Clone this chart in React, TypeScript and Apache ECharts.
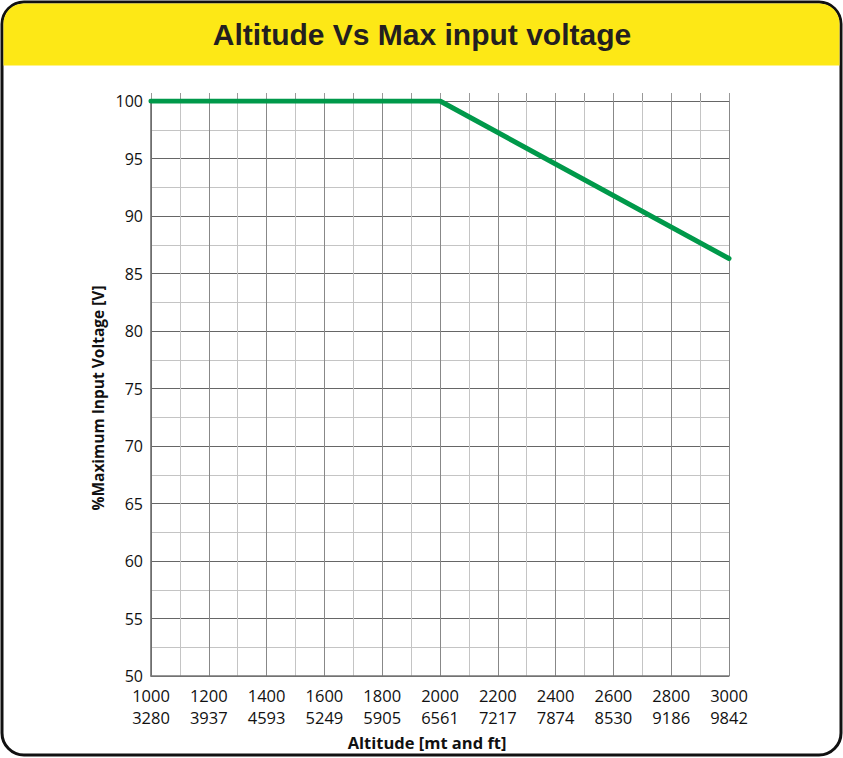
import React, { useEffect, useRef } from "react";
import * as echarts from "echarts";

const altitudeM = [1000, 2000, 3000];
const maxVoltagePct = [100, 100, 86.3];
const xTicksM = [1000, 1200, 1400, 1600, 1800, 2000, 2200, 2400, 2600, 2800, 3000];
const xTicksFt = ["3280", "3937", "4593", "5249", "5905", "6561", "7217", "7874", "8530", "9186", "9842"];
const titleText = "Altitude Vs Max input voltage";
const yName = "%Maximum Input Voltage [V]";
const xName = "Altitude [mt and ft]";

export default function App() {
  const ref = useRef<HTMLDivElement>(null);
  useEffect(() => {
    document.body.style.margin = "0";
    const chart = echarts.init(ref.current!, null, { renderer: "svg" });
    const ftOf = (v: number) => {
      const i = xTicksM.indexOf(v);
      return i >= 0 ? xTicksFt[i] : "";
    };
    const gridLeft = 151, gridTop = 101, gridW = 578, gridH = 575;
    chart.setOption({
      animation: false,
      graphic: [
        { type: "rect", z: -10, shape: { x: 2, y: 2, width: 839, height: 753, r: 22 }, style: { fill: "#fff", stroke: "#111", lineWidth: 3 } },
        { type: "rect", z: -9, shape: { x: 3.5, y: 3.5, width: 836, height: 62, r: [20, 20, 0, 0] }, style: { fill: "#FDE816" } },
        { type: "text", z: 10, x: 422, y: 34, style: { text: titleText, font: "bold 30px 'Liberation Sans', Arial, sans-serif", fill: "#231f20", align: "center", verticalAlign: "middle" } },
        { type: "text", z: 10, x: 427, y: 742, style: { text: xName, font: "bold 16.5px 'Open Sans', sans-serif", fill: "#111", align: "center", verticalAlign: "middle" } },
        { type: "text", z: 10, x: 98, y: 398, rotation: Math.PI / 2, style: { text: yName, font: "bold 15.5px 'Open Sans', sans-serif", fill: "#111", align: "center", verticalAlign: "middle" } },
      ],
      grid: { left: gridLeft, top: gridTop, width: gridW, height: gridH, containLabel: false },
      xAxis: [
        {
          type: "value", min: 1000, max: 3000, interval: 200,
          axisLine: { show: true, lineStyle: { color: "#777", width: 1.5 } },
          axisTick: { show: false },
          axisLabel: {
            margin: 8, color: "#111", fontSize: 16.5, fontFamily: "'Open Sans', sans-serif", lineHeight: 22,
            formatter: (v: number) => `${v}\n${ftOf(v)}`,
          },
          splitLine: { show: true, lineStyle: { color: "#888", width: 1 } },
          minorTick: { show: false, splitNumber: 2 },
          minorSplitLine: { show: true, lineStyle: { color: "#c4c4c4", width: 1 } },
        },
        {
          type: "value", min: 1000, max: 3000, interval: 100, position: "top",
          axisLine: { show: false },
          axisTick: { show: true, length: 8, lineStyle: { color: "#999", width: 1 } },
          axisLabel: { show: false },
          splitLine: { show: false },
        },
      ],
      yAxis: {
        type: "value", min: 50, max: 100, interval: 5,
        axisLine: { show: true, lineStyle: { color: "#666", width: 1.5 } },
        axisTick: { show: false },
        axisLabel: { margin: 8, color: "#111", fontSize: 16, lineHeight: 13, fontFamily: "'Open Sans', sans-serif" },
        splitLine: { show: true, lineStyle: { color: "#666", width: 1 } },
        minorTick: { show: false, splitNumber: 2 },
        minorSplitLine: { show: true, lineStyle: { color: "#c4c4c4", width: 1 } },
      },
      series: [
        {
          type: "line",
          data: altitudeM.map((a, i) => [a, maxVoltagePct[i]]),
          symbol: "none",
          lineStyle: { color: "#00994a", width: 5, cap: "round", join: "round" },
          z: 5,
        },
      ],
    });
    return () => chart.dispose();
  }, []);
  return <div ref={ref} style={{ width: 843, height: 758 }} />;
}
